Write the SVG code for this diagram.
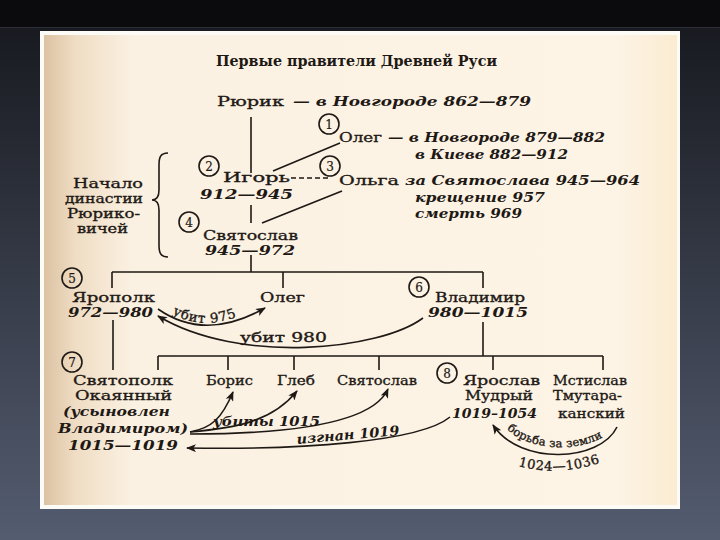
<svg xmlns="http://www.w3.org/2000/svg" width="720" height="540" viewBox="0 0 720 540">
<defs>
<linearGradient id="bg" x1="0" y1="0" x2="0" y2="1">
<stop offset="0" stop-color="#15171c"/>
<stop offset="1" stop-color="#545c70"/>
</linearGradient>
<linearGradient id="pg" x1="0" y1="0" x2="1" y2="0">
<stop offset="0" stop-color="#dcc2a2"/>
<stop offset="0.05" stop-color="#efddc4"/>
<stop offset="0.14" stop-color="#fbf1e2"/>
<stop offset="0.9" stop-color="#fdf4e6"/>
<stop offset="1" stop-color="#fbecd2"/>
</linearGradient>
<marker id="ah" viewBox="0 0 10 8" refX="9" refY="4" markerWidth="10" markerHeight="8" markerUnits="userSpaceOnUse" orient="auto">
<path d="M0,0 L10,4 L0,8 L2.5,4 z" fill="#1e1915"/>
</marker>
<path id="p975" d="M172,314 Q210,334 252,309"/>
<path id="pbor" d="M507,429 C531,453 588,453 611,431"/>
<path id="p1024" d="M518,466 Q562,478 610,459"/>
</defs>
<style>
text{font-family:"DejaVu Serif","Liberation Serif",serif;font-size:13.5px;fill:#1e1915;stroke:#1e1915;stroke-width:0.35}
.i{font-style:italic;font-weight:bold;stroke-width:0}
.t{font-weight:bold;font-size:14.5px;stroke-width:0}
.num{font-size:12px;text-anchor:middle;stroke-width:0.2}
.c{fill:none;stroke:#1e1915;stroke-width:1.6}
.ln{fill:none;stroke:#1e1915;stroke-width:1.6}
.ar{fill:none;stroke:#1e1915;stroke-width:1.6;marker-end:url(#ah)}
.lab{font-size:13.5px}
.dl{font-size:13px}
</style>
<rect width="720" height="540" fill="url(#bg)"/>
<rect width="720" height="27" fill="#0b0b0e"/>
<line x1="0" y1="27.5" x2="720" y2="27.5" stroke="#2c2f38" stroke-width="1"/>
<rect x="40" y="31" width="640" height="478" fill="#fdfbf6"/>
<rect x="44" y="35" width="633" height="470" fill="url(#pg)"/>

<text x="216" y="66" class="t" textLength="281" lengthAdjust="spacingAndGlyphs">Первые правители Древней Руси</text>

<g id="connectors">
<path class="ln" d="M251,117 V173 M251,205 V223 M251,255 V272"/>
<path class="ln" d="M273,171 L340,143"/>
<path class="ln" d="M291,178 L328,178" stroke-dasharray="5 3"/>
<path class="ln" d="M262,223 L342,191"/>
<path class="ln" stroke-width="1.8" d="M168,153 C160,153 159,158 159,165 L159,190 C159,196 157,200 152,200 C157,200 159,204 159,210 L159,245 C159,252 160,257 168,257"/>
<path class="ln" d="M112,272 H483 M112,272 V288 M283,272 V288 M483,272 V288"/>
<path class="ln" d="M113,320 V370"/>
<path class="ln" d="M483,322 V356"/>
<path class="ln" d="M158,356 H603 M158,356 V370 M228,356 V370 M294,356 V370 M379,356 V370 M493,356 V370 M603,356 V370"/>
<path class="ar" d="M158,309 Q205,342 265,308"/>
<path class="ar" d="M423,318 C380,350 240,365 158,316"/>
<path class="ar" d="M190,432 C212,428 222,418 233,392"/>
<path class="ar" d="M190,432 C235,428 272,422 297,391"/>
<path class="ar" d="M190,434 C285,434 372,425 388,389"/>
<path class="ar" d="M450,417 C420,442 300,450 187,448"/>
<path class="ar" d="M617,427 C600,462 520,466 493,425"/>
<text class="lab"><textPath href="#p975" letter-spacing="0.6">убит 975</textPath></text>
<text x="240" y="342" class="lab" textLength="87" lengthAdjust="spacingAndGlyphs">убит 980</text>
<text x="213" y="426" class="i" textLength="107" lengthAdjust="spacingAndGlyphs">убиты 1015</text>
<text x="297" y="444" class="i" textLength="103" lengthAdjust="spacingAndGlyphs" transform="rotate(-5 297 444)">изгнан 1019</text>
<text style="font-size:11.5px"><textPath href="#pbor" letter-spacing="0.2">борьба за земли</textPath></text>
<text style="font-size:13px"><textPath href="#p1024" letter-spacing="0.5">1024—1036</textPath></text>
</g>

<g id="rurik">
<text x="217" y="106" textLength="67" lengthAdjust="spacingAndGlyphs">Рюрик</text>
<text x="293" y="106" class="i" textLength="238" lengthAdjust="spacingAndGlyphs">— в Новгороде 862—879</text>
</g>

<g id="oleg1">
<circle class="c" cx="329" cy="124" r="10"/>
<text x="329" y="128.5" class="num">1</text>
<text x="339" y="142" textLength="43" lengthAdjust="spacingAndGlyphs">Олег</text>
<text x="388" y="142" class="i" textLength="217" lengthAdjust="spacingAndGlyphs">— в Новгороде 879—882</text>
<text x="415" y="159" class="i" textLength="153" lengthAdjust="spacingAndGlyphs">в Киеве 882—912</text>
</g>

<g id="igor">
<circle class="c" cx="209" cy="166" r="10"/>
<text x="209" y="170.5" class="num">2</text>
<text x="223" y="182" textLength="67" lengthAdjust="spacingAndGlyphs">Игорь</text>
<text x="200" y="199" class="i" textLength="93" lengthAdjust="spacingAndGlyphs">912—945</text>
</g>

<g id="olga">
<circle class="c" cx="330" cy="166" r="10"/>
<text x="330" y="170.5" class="num">3</text>
<text x="339" y="185" textLength="60" lengthAdjust="spacingAndGlyphs">Ольга</text>
<text x="405" y="185" class="i" textLength="235" lengthAdjust="spacingAndGlyphs">за Святослава 945—964</text>
<text x="415" y="202" class="i" textLength="130" lengthAdjust="spacingAndGlyphs">крещение 957</text>
<text x="415" y="218" class="i" textLength="107" lengthAdjust="spacingAndGlyphs">смерть 969</text>
</g>

<g id="svyatoslav1">
<circle class="c" cx="189" cy="222" r="10"/>
<text x="189" y="226.5" class="num">4</text>
<text x="203" y="240" textLength="95" lengthAdjust="spacingAndGlyphs">Святослав</text>
<text x="205" y="255" class="i" textLength="90" lengthAdjust="spacingAndGlyphs">945—972</text>
</g>

<g id="dynasty-label">
<text x="108" y="188" class="dl" text-anchor="middle" textLength="70" lengthAdjust="spacingAndGlyphs">Начало</text>
<text x="104" y="203" class="dl" text-anchor="middle" textLength="78" lengthAdjust="spacingAndGlyphs">династии</text>
<text x="103.5" y="218" class="dl" text-anchor="middle" textLength="73" lengthAdjust="spacingAndGlyphs">Рюрико-</text>
<text x="102.5" y="233" class="dl" text-anchor="middle" textLength="51" lengthAdjust="spacingAndGlyphs">вичей</text>
</g>

<g id="yaropolk">
<circle class="c" cx="72" cy="278" r="10"/>
<text x="72" y="282.5" class="num">5</text>
<text x="72" y="302" textLength="83" lengthAdjust="spacingAndGlyphs">Ярополк</text>
<text x="68" y="317" class="i" textLength="85" lengthAdjust="spacingAndGlyphs">972—980</text>
</g>

<g id="oleg2">
<text x="260" y="302" textLength="45" lengthAdjust="spacingAndGlyphs">Олег</text>
</g>

<g id="vladimir">
<circle class="c" cx="419" cy="287" r="10"/>
<text x="419" y="291.5" class="num">6</text>
<text x="435" y="302" textLength="90" lengthAdjust="spacingAndGlyphs">Владимир</text>
<text x="428" y="317" class="i" textLength="100" lengthAdjust="spacingAndGlyphs">980—1015</text>
</g>

<g id="svyatopolk">
<circle class="c" cx="72" cy="362" r="10"/>
<text x="72" y="366.5" class="num">7</text>
<text x="73" y="385" textLength="100" lengthAdjust="spacingAndGlyphs">Святополк</text>
<text x="75" y="400" textLength="97" lengthAdjust="spacingAndGlyphs">Окаянный</text>
<text x="63" y="416" class="i" textLength="107" lengthAdjust="spacingAndGlyphs">(усыновлен</text>
<text x="58" y="433" class="i" textLength="130" lengthAdjust="spacingAndGlyphs">Владимиром)</text>
<text x="68" y="450" class="i" textLength="110" lengthAdjust="spacingAndGlyphs">1015—1019</text>
</g>

<g id="boris">
<text x="206" y="385" textLength="47" lengthAdjust="spacingAndGlyphs">Борис</text>
</g>
<g id="gleb">
<text x="277" y="385" textLength="38" lengthAdjust="spacingAndGlyphs">Глеб</text>
</g>
<g id="svyatoslav2">
<text x="337" y="385" textLength="80" lengthAdjust="spacingAndGlyphs">Святослав</text>
</g>

<g id="yaroslav">
<circle class="c" cx="447" cy="373" r="10"/>
<text x="447" y="377.5" class="num">8</text>
<text x="463" y="385" textLength="77" lengthAdjust="spacingAndGlyphs">Ярослав</text>
<text x="465" y="400" textLength="68" lengthAdjust="spacingAndGlyphs">Мудрый</text>
<text x="452" y="418" class="i" textLength="85" lengthAdjust="spacingAndGlyphs">1019–1054</text>
</g>

<g id="mstislav">
<text x="553" y="385" textLength="74" lengthAdjust="spacingAndGlyphs">Мстислав</text>
<text x="553" y="400" textLength="69" lengthAdjust="spacingAndGlyphs">Тмутара-</text>
<text x="558" y="418" textLength="67" lengthAdjust="spacingAndGlyphs">канский</text>
</g>
</svg>
